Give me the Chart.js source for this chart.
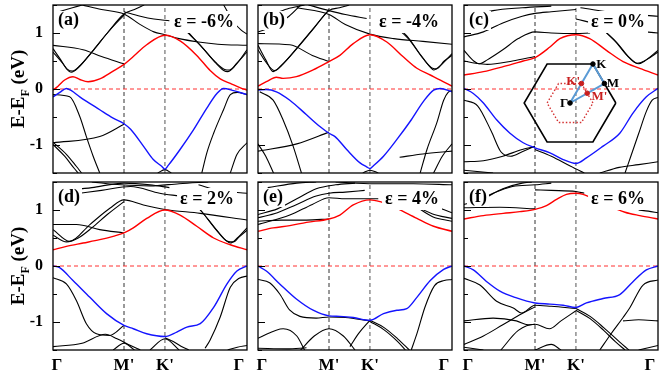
<!DOCTYPE html>
<html>
<head>
<meta charset="utf-8">
<script src="https://cdn.jsdelivr.net/npm/chart.js@4.4.1/dist/chart.umd.min.js"></script>
<style>
  body { margin: 0; background: #fff; width: 664px; height: 374px; position: relative; overflow: hidden; }
  canvas { position: absolute; }
  .ytitle { position: absolute; font: bold 19px "Liberation Serif", serif; white-space: nowrap;
            transform: translate(-50%, -50%) rotate(-90deg); }
  .ytitle sub { font-size: 12px; }
</style>
</head>
<body>
<canvas id="pa" width="252" height="177" style="left:0;top:0"></canvas>
<canvas id="pb" width="205" height="177" style="left:252px;top:0"></canvas>
<canvas id="pc" width="207" height="177" style="left:457px;top:0"></canvas>
<canvas id="pd" width="252" height="197" style="left:0;top:177px"></canvas>
<canvas id="pe" width="205" height="197" style="left:252px;top:177px"></canvas>
<canvas id="pf" width="207" height="197" style="left:457px;top:177px"></canvas>
<canvas id="inset" width="120" height="100" style="left:510px;top:53px"></canvas>
<div class="ytitle" style="left:20px;top:89px">E-E<sub>F</sub> (eV)</div>
<div class="ytitle" style="left:20px;top:266px">E-E<sub>F</sub> (eV)</div>

<script>
// k-path: Γ (0) - M' - K' - Γ (1)
const M = 0.366, K = 0.577;
// label anchors (the end Γ labels sit just inside the frame)
const xTickVals = [0.02, M, K, 0.958];
const xTickLabels = ['Γ', "M'", "K'", 'Γ'];
const yTickVals = [-1, 0, 1];
const yTickLabels = ['-1', '0', '1'];
const yMinorVals = [-1.5, -1, -0.5, 0, 0.5, 1, 1.5];
const tags = ['(a)', '(b)', '(c)', '(d)', '(e)', '(f)'];
const strains = ['ε = -6%', 'ε = -4%', 'ε = 0%', 'ε = 2%', 'ε = 4%', 'ε = 6%'];

// (a) -6%
const redA = [[0,-0.02],[0.026,0.05],[0.06,0.16],[0.103,0.22],[0.138,0.17],[0.181,0.13],[0.241,0.18],[0.31,0.32],[0.366,0.44],[0.414,0.58],[0.483,0.79],[0.577,0.96],[0.655,0.86],[0.741,0.6],[0.81,0.33],[0.862,0.18],[0.914,0.1],[0.966,0.02],[1,-0.02]];
const blueA = [[0,-0.14],[0.035,-0.06],[0.069,0.01],[0.095,-0.03],[0.138,-0.14],[0.241,-0.37],[0.31,-0.52],[0.366,-0.62],[0.4,-0.72],[0.466,-1.02],[0.517,-1.26],[0.56,-1.38],[0.577,-1.43],[0.595,-1.36],[0.655,-1.08],[0.724,-0.73],[0.793,-0.34],[0.845,-0.08],[0.879,0.01],[0.931,-0.03],[1,-0.1]];
const bandsA = [
  [[0,0.72],[0.04,0.52],[0.07,0.36],[0.095,0.3],[0.13,0.38],[0.2,0.66],[0.28,1.0],[0.366,1.34],[0.42,1.42],[0.47,1.5]],
  [[0,0.66],[0.045,0.48],[0.075,0.35],[0.1,0.32],[0.14,0.42],[0.21,0.7],[0.29,1.04],[0.366,1.32]],
  [[0.15,1.5],[0.25,1.42],[0.366,1.34],[0.45,1.15],[0.52,1.02],[0.577,0.97],[0.65,0.9],[0.75,0.84],[0.85,0.8],[1,0.78]],
  [[0,0.78],[0.155,0.7],[0.25,0.58],[0.366,0.45]],
  [[0.366,1.38],[0.45,1.3],[0.52,1.25],[0.6,1.22]],
  [[0.69,1.02],[0.76,0.78],[0.83,0.5],[0.88,0.33],[0.9,0.31],[0.94,0.42],[1,0.7]],
  [[0.7,1.0],[0.77,0.74],[0.84,0.47],[0.885,0.35],[0.91,0.34],[0.95,0.47],[1,0.66]],
  [[0.88,1.5],[0.93,1.2],[0.97,1.05],[1,0.98]],
  [[0.03,1.38],[0.1,1.45],[0.15,1.5]],
  [[0,-0.1],[0.086,-0.14],[0.138,-0.49],[0.172,-0.85],[0.207,-1.2],[0.241,-1.5]],
  [[0,-0.96],[0.241,-0.85],[0.366,-0.63]],
  [[0,-0.95],[0.07,-1.17],[0.12,-1.38],[0.147,-1.5]],
  [[0,-0.99],[0.06,-1.2],[0.11,-1.42],[0.13,-1.5]],
  [[0.767,-1.5],[0.793,-1.14],[0.828,-0.79],[0.879,-0.37],[0.914,-0.1],[0.95,-0.06],[1,-0.1]],
  [[0.914,-1.5],[0.948,-1.17],[1,-0.96]],
  [[0.54,-1.5],[0.577,-1.44],[0.61,-1.5]]
];

// (b) -4%
const redB = [[0,0.05],[0.043,0.13],[0.095,0.21],[0.129,0.19],[0.198,0.22],[0.284,0.34],[0.366,0.49],[0.422,0.6],[0.491,0.81],[0.577,0.97],[0.664,0.84],[0.75,0.57],[0.819,0.37],[0.888,0.25],[0.94,0.16],[1,0.05]];
const blueB = [[0,-0.02],[0.043,-0.01],[0.095,-0.05],[0.164,-0.2],[0.25,-0.46],[0.319,-0.67],[0.366,-0.79],[0.397,-0.85],[0.457,-1.08],[0.526,-1.32],[0.56,-1.39],[0.577,-1.42],[0.595,-1.37],[0.647,-1.2],[0.716,-0.9],[0.784,-0.58],[0.853,-0.22],[0.905,-0.02],[0.94,0.01],[1,-0.05]];
const bandsB = [
  [[0,0.78],[0.04,0.52],[0.078,0.31],[0.12,0.42],[0.2,0.72],[0.28,1.05],[0.366,1.4],[0.42,1.45],[0.47,1.5]],
  [[0,0.7],[0.045,0.46],[0.085,0.33],[0.13,0.45],[0.21,0.77],[0.29,1.1],[0.366,1.42]],
  [[0,0.81],[0.164,0.79],[0.28,0.6],[0.366,0.49]],
  [[0.2,1.45],[0.366,1.33],[0.45,1.15],[0.577,0.98],[0.7,0.9],[0.85,0.85],[1,0.8]],
  [[0.26,1.5],[0.366,1.4],[0.45,1.33],[0.56,1.26]],
  [[0.7,1.15],[0.767,0.95],[0.84,0.6],[0.89,0.38],[0.905,0.34],[0.95,0.45],[1,0.63]],
  [[0.71,1.1],[0.775,0.9],[0.85,0.55],[0.9,0.37],[0.92,0.36],[0.96,0.5],[1,0.6]],
  [[0,1.02],[0.08,1.12],[0.16,1.3],[0.22,1.5]],
  [[0.07,1.33],[0.15,1.43],[0.24,1.5]],
  [[0.009,-0.05],[0.078,-0.2],[0.129,-0.55],[0.181,-1.02],[0.224,-1.5]],
  [[0,-1.11],[0.2,-0.98],[0.366,-0.77]],
  [[0,-0.98],[0.04,-1.2],[0.08,-1.5]],
  [[0.836,-1.5],[0.871,-1.08],[0.922,-0.6],[0.957,-0.2],[0.98,-0.06],[1,-0.03]],
  [[0.73,-1.22],[0.85,-1.16],[1,-1.11]],
  [[0.905,-1.5],[0.95,-1.2],[1,-0.98]],
  [[0.54,-1.5],[0.577,-1.45],[0.62,-1.5]]
];

// (c) 0%
const redC = [[0,0.25],[0.1,0.31],[0.202,0.4],[0.305,0.5],[0.366,0.56],[0.443,0.75],[0.494,0.9],[0.577,0.97],[0.648,0.9],[0.734,0.69],[0.82,0.49],[0.906,0.37],[1,0.25]];
const blueC = [[0,0.01],[0.048,-0.08],[0.1,-0.25],[0.168,-0.55],[0.237,-0.79],[0.305,-0.96],[0.366,-1.05],[0.443,-1.14],[0.511,-1.26],[0.577,-1.33],[0.631,-1.23],[0.717,-1.02],[0.803,-0.79],[0.871,-0.43],[0.94,-0.14],[1,0.01]];
const bandsC = [
  [[0,0.69],[0.05,0.5],[0.08,0.45],[0.12,0.52],[0.2,0.7],[0.28,0.9],[0.366,1.02],[0.45,1.0],[0.577,0.99],[0.65,1.0]],
  [[0,0.5],[0.06,0.46],[0.12,0.44],[0.25,0.5],[0.366,0.58]],
  [[0,0.93],[0.1,1.02],[0.2,1.18],[0.3,1.3],[0.366,1.35],[0.45,1.38],[0.577,1.42]],
  [[0.05,1.3],[0.15,1.4],[0.3,1.45],[0.45,1.48]],
  [[0.72,1.05],[0.78,0.85],[0.84,0.6],[0.89,0.46],[0.93,0.5],[1,0.69]],
  [[0.73,1.02],[0.79,0.82],[0.85,0.57],[0.9,0.45],[0.94,0.52],[1,0.66]],
  [[0.577,1.25],[0.7,1.15],[0.85,1.05],[1,1.0]],
  [[0.6,1.45],[0.8,1.35],[1,1.3]],
  [[0,-0.2],[0.07,-0.3],[0.14,-0.75],[0.19,-1.12],[0.24,-1.2],[0.3,-1.12],[0.366,-1.02]],
  [[0,-1.3],[0.1,-1.28],[0.2,-1.2],[0.3,-1.08],[0.366,-1.03]],
  [[0.366,-1.08],[0.45,-1.2],[0.55,-1.38],[0.62,-1.5]],
  [[0.83,-1.5],[0.86,-1.2],[0.9,-0.8],[0.94,-0.4],[0.97,-0.2],[1,-0.15]],
  [[0.7,-1.5],[0.8,-1.4],[0.9,-1.35],[1,-1.3]],
  [[0,-1.45],[0.15,-1.5]]
];

// (d) 2%
const redD = [[0,0.29],[0.069,0.35],[0.155,0.41],[0.241,0.47],[0.31,0.53],[0.366,0.59],[0.414,0.68],[0.483,0.85],[0.577,1.0],[0.655,0.91],[0.741,0.71],[0.828,0.5],[0.914,0.38],[1,0.29]];
const blueD = [[0,0],[0.034,-0.03],[0.103,-0.26],[0.19,-0.56],[0.276,-0.85],[0.366,-1.06],[0.414,-1.12],[0.483,-1.21],[0.577,-1.26],[0.638,-1.18],[0.69,-1.09],[0.759,-1.03],[0.828,-0.74],[0.897,-0.32],[0.948,-0.09],[1,0]];
const bandsD = [
  [[0,0.65],[0.086,0.44],[0.19,0.74],[0.293,1.03],[0.366,1.18],[0.466,1.09],[0.577,1.01],[0.759,0.94],[1,0.82]],
  [[0,0.74],[0.121,0.74],[0.241,0.65],[0.366,0.59]],
  [[0,0.55],[0.07,0.43],[0.13,0.5],[0.2,0.68],[0.28,0.92],[0.366,1.15]],
  [[0.7,1.2],[0.759,1.0],[0.83,0.7],[0.89,0.46],[0.914,0.41],[0.95,0.5],[1,0.68]],
  [[0.71,1.18],[0.77,0.96],[0.84,0.65],[0.9,0.44],[0.93,0.43],[0.96,0.52],[1,0.64]],
  [[0.069,1.35],[0.2,1.4],[0.366,1.48],[0.5,1.45],[0.6,1.4]],
  [[0.1,1.28],[0.25,1.35],[0.4,1.42],[0.55,1.3],[0.65,1.25]],
  [[0.75,1.45],[0.85,1.35],[1,1.3]],
  [[0.2,1.5],[0.35,1.45],[0.5,1.43],[0.65,1.47],[0.8,1.5]],
  [[0,-0.21],[0.069,-0.32],[0.121,-0.62],[0.172,-1.03],[0.224,-1.21],[0.293,-1.24],[0.366,-1.06]],
  [[0.784,-1.47],[0.81,-1.32],[0.862,-0.91],[0.914,-0.38],[0.96,-0.22],[1,-0.18]],
  [[0.5,-1.5],[0.577,-1.3],[0.65,-1.5]],
  [[0.577,-1.28],[0.62,-1.35],[0.67,-1.45],[0.7,-1.5]],
  [[0.31,-1.5],[0.366,-1.38],[0.42,-1.5]],
  [[0,-1.44],[0.15,-1.38],[0.27,-1.22],[0.33,-1.3],[0.4,-1.42],[0.45,-1.5]],
  [[0.9,-1.5],[0.95,-1.45],[1,-1.42]]
];

// (e) 4%
const redE = [[0,0.62],[0.078,0.68],[0.164,0.72],[0.25,0.78],[0.366,0.84],[0.422,0.91],[0.491,1.09],[0.577,1.18],[0.629,1.15],[0.681,1.09],[0.75,0.97],[0.819,0.85],[0.905,0.71],[1,0.62]];
const blueE = [[0,0],[0.043,-0.09],[0.112,-0.32],[0.198,-0.59],[0.284,-0.79],[0.366,-0.89],[0.422,-0.9],[0.491,-0.92],[0.577,-0.97],[0.647,-0.85],[0.716,-0.79],[0.767,-0.76],[0.819,-0.56],[0.888,-0.26],[0.957,-0.06],[1,0]];
const bandsE = [
  [[0,0.74],[0.164,0.91],[0.28,1.1],[0.366,1.22],[0.45,1.2],[0.577,1.2],[0.62,1.2]],
  [[0,0.8],[0.12,0.82],[0.25,0.82],[0.366,0.84]],
  [[0,0.86],[0.1,0.95],[0.2,1.1],[0.3,1.25],[0.366,1.3],[0.45,1.32],[0.55,1.35]],
  [[0,0.92],[0.1,1.02],[0.2,1.2],[0.3,1.38],[0.4,1.45],[0.5,1.48]],
  [[0.05,1.4],[0.2,1.48],[0.3,1.5]],
  [[0.72,1.3],[0.8,1.1],[0.9,0.93],[1,0.85]],
  [[0.74,1.25],[0.82,1.05],[0.9,0.88],[1,0.8]],
  [[0.8,1.35],[0.9,1.1],[1,0.95]],
  [[0.4,1.5],[0.6,1.47],[0.8,1.47],[1,1.45]],
  [[0,-0.24],[0.06,-0.3],[0.112,-0.5],[0.164,-0.79],[0.216,-0.9],[0.3,-0.93],[0.366,-0.91],[0.45,-0.92],[0.577,-0.98]],
  [[0.79,-1.5],[0.82,-1.2],[0.86,-0.74],[0.91,-0.35],[0.96,-0.26],[1,-0.24]],
  [[0.577,-0.97],[0.65,-1.1],[0.72,-1.3],[0.78,-1.5]],
  [[0.577,-0.99],[0.65,-1.14],[0.72,-1.35],[0.76,-1.5]],
  [[0.22,-1.5],[0.29,-1.25],[0.366,-1.12],[0.44,-1.25],[0.5,-1.5]],
  [[0.474,-1.44],[0.52,-1.2],[0.577,-0.97]],
  [[0,-1.29],[0.13,-1.12],[0.2,-1.25],[0.24,-1.5]],
  [[0,-1.47],[0.15,-1.48],[0.25,-1.46]]
];

// (f) 6%
const redF = [[0,0.84],[0.1,0.9],[0.202,0.94],[0.288,0.97],[0.366,1.01],[0.425,1.08],[0.477,1.19],[0.528,1.28],[0.577,1.3],[0.614,1.28],[0.7,1.15],[0.83,0.96],[0.906,0.9],[1,0.84]];
const blueF = [[0,0],[0.048,-0.07],[0.117,-0.28],[0.185,-0.45],[0.271,-0.57],[0.366,-0.66],[0.443,-0.68],[0.511,-0.7],[0.577,-0.74],[0.631,-0.66],[0.717,-0.58],[0.803,-0.51],[0.871,-0.28],[0.94,-0.07],[1,0]];
const bandsF = [
  [[0,1.04],[0.185,1.05],[0.366,1.02]],
  [[0,1.1],[0.06,1.15],[0.15,1.3],[0.25,1.42],[0.366,1.45],[0.45,1.48]],
  [[0.05,1.13],[0.1,1.2],[0.2,1.38],[0.3,1.48],[0.35,1.5]],
  [[0.366,1.36],[0.45,1.35],[0.577,1.33],[0.62,1.3]],
  [[0.9,1.0],[0.95,0.98],[1,0.95]],
  [[0,-0.22],[0.082,-0.34],[0.168,-0.63],[0.254,-0.75],[0.297,-0.84],[0.366,-0.7],[0.45,-0.72],[0.577,-0.76]],
  [[0.577,-0.76],[0.65,-0.9],[0.72,-1.1],[0.8,-1.35],[0.85,-1.5]],
  [[0.577,-0.79],[0.65,-0.94],[0.72,-1.15],[0.78,-1.35],[0.83,-1.5]],
  [[0,-0.98],[0.15,-0.93],[0.27,-0.98],[0.33,-1.05],[0.366,-1.04]],
  [[0.19,-1.5],[0.28,-1.15],[0.366,-1.04],[0.44,-1.12],[0.5,-0.98],[0.577,-0.8]],
  [[0,-1.4],[0.1,-1.25],[0.2,-1.05],[0.3,-0.85],[0.366,-0.73]],
  [[0.7,-1.5],[0.76,-1.2],[0.82,-0.92],[0.854,-0.75],[0.923,-0.34],[1,-0.25]],
  [[0.82,-0.98],[0.9,-0.96],[1,-0.98]],
  [[0,-1.45],[0.1,-1.5]],
  [[0.9,-1.5],[1,-1.42]],
  [[0.366,-1.5],[0.45,-1.4],[0.5,-1.5]]
];

// Brillouin-zone inset (units of the large hexagon radius)
const bigHex = [[1,0],[0.5,0.866],[-0.5,0.866],[-1,0],[-0.5,-0.866],[0.5,-0.866],[1,0]];
const smallHex = [[0.5,0],[0.25,0.433],[-0.25,0.433],[-0.5,0],[-0.25,-0.433],[0.25,-0.433],[0.5,0]];
const kPath = [[0,0],[0.5,0.866],[0.75,0.433],[0,0]];
const bigPts = [[0,0],[0.5,0.866],[0.75,0.433]];
const smallPts = [[0.25,0.433],[0.375,0.217]];

const FONT = '"Liberation Serif", "Times New Roman", serif';
const pts = a => a.map(p => ({x: p[0], y: p[1]}));

const frame = {
  id: 'frame',
  afterDraw(chart) {
    const {ctx, chartArea: a} = chart;
    const y = chart.scales.y;
    ctx.save();
    ctx.strokeStyle = '#000';
    ctx.lineWidth = 1.3;
    ctx.strokeRect(a.left, a.top, a.right - a.left, a.bottom - a.top);
    ctx.lineWidth = 1;
    yMinorVals.forEach(v => {
      const py = Math.round(y.getPixelForValue(v)) + 0.5;
      const len = Number.isInteger(v) ? 7 : 4;
      ctx.beginPath();
      ctx.moveTo(a.left, py);
      ctx.lineTo(a.left + len, py);
      ctx.stroke();
    });
    ctx.restore();
  }
};

const deco = {
  id: 'deco',
  afterDatasetsDraw(chart, args, opts) {
    const {ctx, chartArea: a} = chart;
    ctx.save();
    ctx.font = 'bold 18px ' + FONT;
    let w = ctx.measureText(opts.tag).width;
    ctx.fillStyle = '#fff';
    ctx.fillRect(a.left + 3, a.top + 6, w + 4, 19);
    ctx.fillStyle = '#000';
    ctx.fillText(opts.tag, a.left + 5, a.top + 20);
    w = ctx.measureText(opts.eps).width;
    const x = a.right - 13 - w;
    ctx.fillStyle = '#fff';
    ctx.fillRect(x - 3, a.top + 6, w + 6, 22);
    ctx.fillStyle = '#000';
    ctx.fillText(opts.eps, x, a.top + 22);
    ctx.restore();
  }
};

function makePanel(id, i, red, blue, bands, pad, showY, showX) {
  const ds = [];
  ds.push({data: pts(red), borderColor: '#ff0000', borderWidth: 1.4});
  ds.push({data: pts(blue), borderColor: '#1414ff', borderWidth: 1.4});
  bands.forEach(b => ds.push({data: pts(b), borderColor: '#000', borderWidth: 1.1}));
  const straight = {cubicInterpolationMode: 'default', tension: 0, borderWidth: 1, borderDash: [4, 3]};
  ds.push(Object.assign({data: [{x: 0, y: 0}, {x: 1, y: 0}], borderColor: '#ff3030'}, straight));
  ds.push(Object.assign({data: [{x: M, y: -1.5}, {x: M, y: 1.5}], borderColor: '#333'}, straight));
  ds.push(Object.assign({data: [{x: K, y: -1.5}, {x: K, y: 1.5}], borderColor: '#555'}, straight));

  new Chart(document.getElementById(id), {
    type: 'line',
    data: {datasets: ds},
    plugins: [frame, deco],
    options: {
      responsive: false,
      animation: false,
      devicePixelRatio: 1,
      layout: {padding: pad},
      elements: {
        point: {radius: 0},
        line: {cubicInterpolationMode: 'monotone', fill: false}
      },
      plugins: {
        legend: {display: false},
        tooltip: {enabled: false},
        deco: {tag: tags[i], eps: strains[i]}
      },
      scales: {
        x: {
          type: 'linear', min: 0, max: 1, display: showX,
          grid: {display: false, drawTicks: false}, border: {display: false},
          ticks: {
            autoSkip: false, maxRotation: 0, padding: 5, color: '#000',
            font: {family: FONT, size: 17, weight: 'bold'},
            callback: (v, idx) => xTickLabels[idx]
          },
          afterBuildTicks: s => { s.ticks = xTickVals.map(v => ({value: v})); },
          afterFit: s => { if (showX) { s.height = 24; s.paddingLeft = 0; s.paddingRight = 0; } }
        },
        y: {
          type: 'linear', min: -1.5, max: 1.5, display: showY,
          grid: {display: false, drawTicks: false}, border: {display: false},
          ticks: {
            padding: 10, color: '#000',
            font: {family: FONT, size: 16, weight: 'bold'},
            callback: (v, idx) => yTickLabels[idx]
          },
          afterBuildTicks: s => { s.ticks = yTickVals.map(v => ({value: v})); },
          afterFit: s => { if (showY) { s.width = 53; s.paddingTop = 0; s.paddingBottom = 0; } }
        }
      }
    }
  });
}

makePanel('pa', 0, redA, blueA, bandsA, {top: 5, bottom: 4, right: 5, left: 0}, true, false);
makePanel('pb', 1, redB, blueB, bandsB, {top: 5, bottom: 4, right: 5, left: 6}, false, false);
makePanel('pc', 2, redC, blueC, bandsC, {top: 5, bottom: 4, right: 6, left: 7}, false, false);
makePanel('pd', 3, redD, blueD, bandsD, {top: 5, bottom: 0, right: 5, left: 0}, true, true);
makePanel('pe', 4, redE, blueE, bandsE, {top: 5, bottom: 0, right: 5, left: 6}, false, true);
makePanel('pf', 5, redF, blueF, bandsF, {top: 5, bottom: 0, right: 6, left: 7}, false, true);

// inset: hexagonal Brillouin zones and k-path
const insetLabels = {
  id: 'insetLabels',
  afterDatasetsDraw(chart) {
    const {ctx, scales: {x, y}} = chart;
    ctx.save();
    ctx.font = 'bold 13px ' + FONT;
    ctx.textBaseline = 'middle';
    const put = (t, px, py, align, col) => {
      ctx.textAlign = align; ctx.fillStyle = col;
      ctx.fillText(t, x.getPixelForValue(px), y.getPixelForValue(py));
    };
    put('K', 0.57, 0.86, 'left', '#000');
    put('M', 0.8, 0.44, 'left', '#000');
    put('Γ', -0.04, -0.02, 'right', '#000');
    put("K'", 0.22, 0.48, 'right', '#c81e1e');
    put("M'", 0.47, 0.15, 'left', '#c81e1e');
    ctx.restore();
  }
};

new Chart(document.getElementById('inset'), {
  type: 'scatter',
  data: {
    datasets: [
      {data: pts(bigPts), backgroundColor: '#000', borderColor: '#000', pointRadius: 2.3, showLine: false},
      {data: pts(smallPts), backgroundColor: '#c81e1e', borderColor: '#c81e1e', pointRadius: 2.3, showLine: false},
      {data: pts(kPath), showLine: true, borderColor: '#5b9bd5', borderWidth: 2, pointRadius: 0},
      {data: pts(smallHex), showLine: true, borderColor: '#d43030', borderWidth: 1.4, borderDash: [1.5, 2], pointRadius: 0},
      {data: pts(bigHex), showLine: true, borderColor: '#000', borderWidth: 1.6, pointRadius: 0}
    ]
  },
  plugins: [insetLabels],
  options: {
    responsive: false,
    animation: false,
    devicePixelRatio: 1,
    layout: {padding: 0},
    plugins: {legend: {display: false}, tooltip: {enabled: false}},
    scales: {
      x: {min: -1.2, max: 1.2, display: false},
      y: {min: -1, max: 1, display: false}
    }
  }
});
</script>
</body>
</html>
